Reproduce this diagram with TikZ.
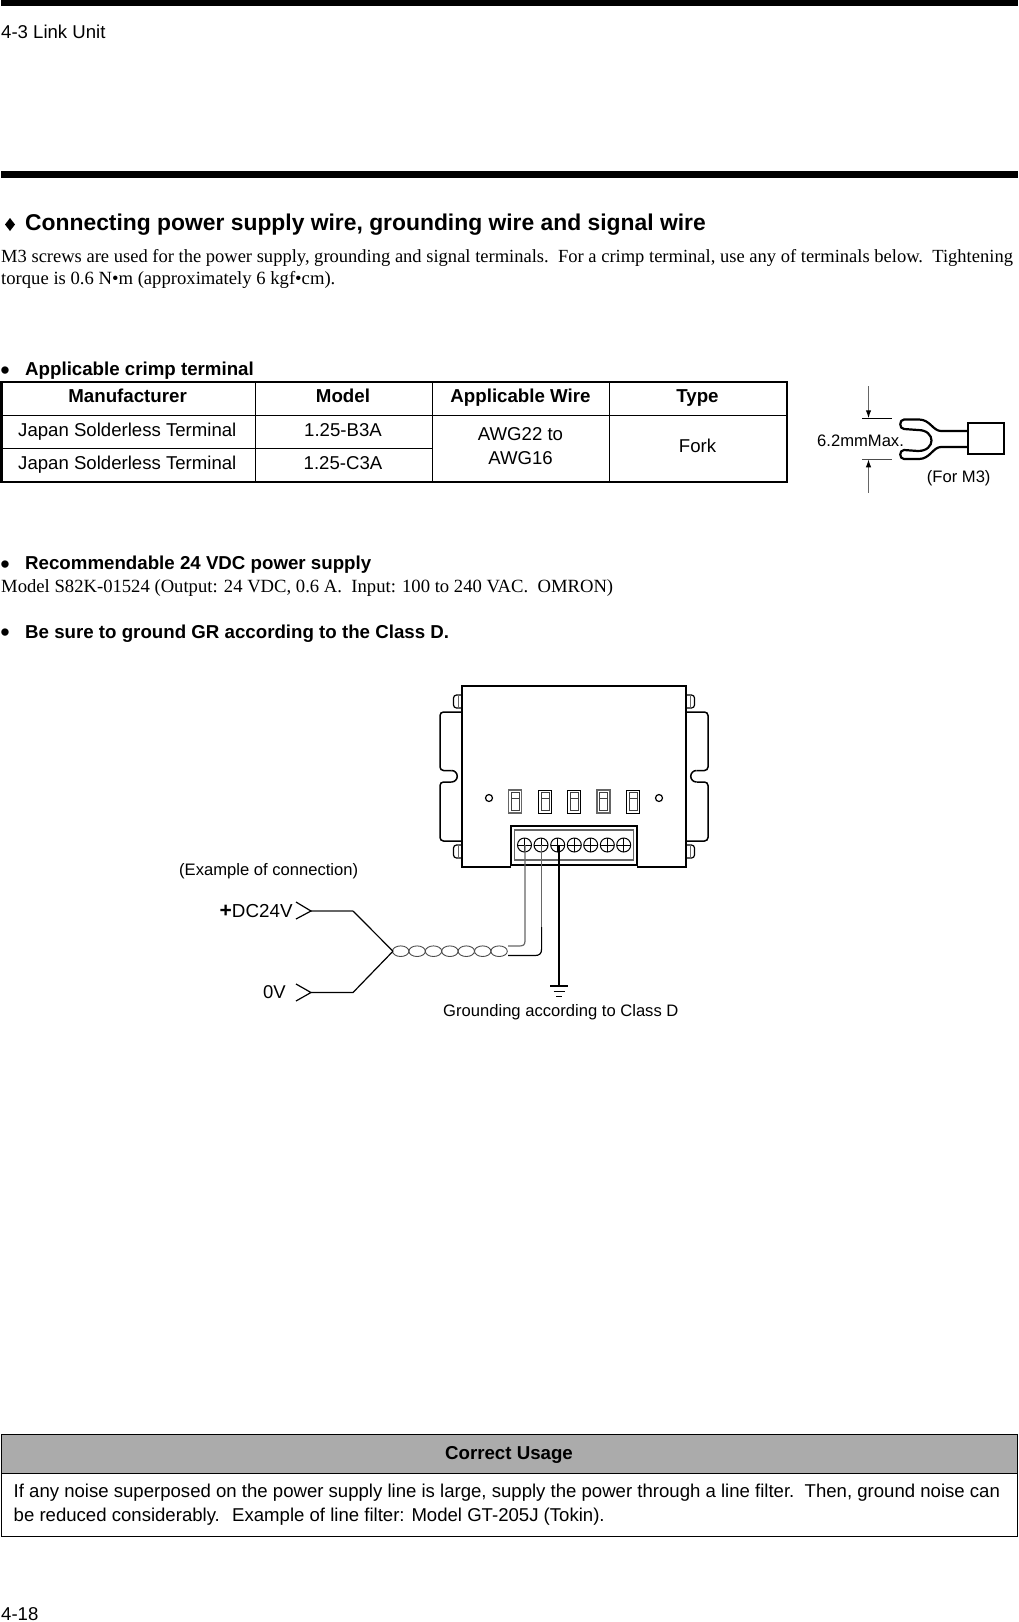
\documentclass[tikz,border=0pt]{standalone}
\usepackage{fontspec}
\setmainfont{Liberation Serif}
\setsansfont{Liberation Sans}
\usetikzlibrary{arrows.meta}

\tikzset{
  sanstext/.style={anchor=base west, inner sep=0pt, font=\sffamily\fontsize{18.58}{22}\selectfont},
  boldtext/.style={anchor=base west, inner sep=0pt, font=\sffamily\bfseries\fontsize{18.7}{22}\selectfont},
  bullettext/.style={anchor=base west, inner sep=0pt, font=\sffamily\fontsize{27}{28}\selectfont},
  serftext/.style={anchor=base west, inner sep=0pt, font=\fontsize{18.65}{22}\selectfont},
  celltext/.style={anchor=base, inner sep=0pt, font=\sffamily\fontsize{18.6}{22}\selectfont},
  headtext/.style={anchor=base, inner sep=0pt, font=\sffamily\bfseries\fontsize{18.7}{22}\selectfont},
  smalltext/.style={anchor=base west, inner sep=0pt, font=\sffamily\fontsize{16.6}{20}\selectfont},
  thinline/.style={line width=1.2pt},
  thickline/.style={line width=2.2pt},
  greywire/.style={line width=1.2pt, color=black!60},
}

\begin{document}
\begin{tikzpicture}[x=1pt,y=-1pt]
    \useasboundingbox (0,0) rectangle (1018,1622);

    %% page rules and running texts
    \fill (1,0) rectangle (1018,5.7);
    \fill (1,171) rectangle (1018,178);
    \node[sanstext] (runhead) at (1,38) {4-3 Link Unit};
    \node[sanstext] (pagenum) at (1,1620.5) {4-18};

    %% section heading
    \fill (10,218) -- (15,224.5) -- (10,231) -- (5,224.5) -- cycle;
    \node[anchor=base west, inner sep=0pt, font=\sffamily\bfseries\fontsize{22.85}{26}\selectfont] (heading) at (25,230) {Connecting power supply wire, grounding wire and signal wire};
    \node[serftext, font=\fontsize{18.52}{22}\selectfont] (introa) at (1,262) {M3 screws are used for the power supply, grounding and signal terminals.\ \ For a crimp terminal, use any of terminals below.\ \ Tightening};
    \node[serftext] (introb) at (1,284) {torque is 0.6 N•m (approximately 6 kgf•cm).};

    %% bullets
    \node[bullettext] (bulleta) at (0.3,379) {•};
    \node[boldtext] (crimp) at (25,375) {Applicable crimp terminal};
    \node[bullettext] (bulletb) at (0.3,573) {•};
    \node[boldtext] (supply) at (25,569) {Recommendable 24 VDC power supply};
    \node[serftext] (model) at (1,592.3) {Model S82K-01524 (Output: 24 VDC, 0.6 A.\ \ Input: 100 to 240 VAC.\ \ OMRON)};
    \node[bullettext] (bulletc) at (0.3,641.7) {•};
    \node[boldtext] (ground) at (25,638.2) {Be sure to ground GR according to the Class D.};

    %% table
    \draw[thinline] (255.7,382) -- (255.7,481.7);
    \draw[thinline] (432.3,382) -- (432.3,481.7);
    \draw[thinline] (609.3,382) -- (609.3,481.7);
    \draw[thinline] (1.5,415.3) -- (786.7,415.3);
    \draw[thinline] (1.5,448.3) -- (432.3,448.3);
    \draw[thickline] (1.5,382) rectangle (786.7,481.7);
    \node[headtext] (headmaker) at (127.6,402.7) {Manufacturer};
    \node[headtext] (headmodel) at (343,402.7) {Model};
    \node[headtext] (headwire) at (520.5,402.7) {Applicable Wire};
    \node[headtext] (headtype) at (697.5,402.7) {Type};
    \foreach \y/\m [count=\r] in {436/1.25-B3A,469/1.25-C3A}{
      \node[celltext] (maker\r) at (127.3,\y) {Japan Solderless Terminal};
      \node[celltext] (model\r) at (343,\y) {\m};
    }
    \node[celltext] (awga) at (520.5,440.7) {AWG22 to};
    \node[celltext] (awgb) at (520.5,464) {AWG16};
    \node[celltext] (fork) at (697.5,452.7) {Fork};

    %% crimp terminal
    \coordinate (dimtopa) at (868.5,386);
    \coordinate (dimtopb) at (868.5,418.3);
    \coordinate (dimbota) at (868.5,492.7);
    \coordinate (dimbotb) at (868.5,459.3);
    \draw[greywire, -{Latex[length=8pt,width=5.5pt,black]}] (dimtopa) -- (dimtopb);
    \draw[greywire, -{Latex[length=8pt,width=5.5pt,black]}] (dimbota) -- (dimbotb);
    \draw[line width=0.8pt] (862,418.3) -- (892,418.3);
    \draw[line width=0.8pt, black!70] (862,459.3) -- (892,459.3);
    \node[smalltext] (dimtext) at (817,446) {6.2mmMax.};
    \node[smalltext] (form) at (926.7,482.7) {(For M3)};
    \draw[thickline] (968.3,423.3) rectangle (1004,454.3);
    \draw[thickline, line join=round] (968.3,431) -- (941,431) .. controls (933,431) and (930,419.5) .. (919,419.5)
      -- (904,419.5) .. controls (899,419.5) and (899,429) .. (904,429) -- (918,430)
      .. controls (936,430) and (936,451) .. (918,451) -- (904,450)
      .. controls (899,450) and (899,459) .. (904,459) -- (919,459)
      .. controls (930,459) and (933,447) .. (941,447) -- (968.3,447);

    %% link unit, side plates
    \foreach \s in {1,-1}{
      \begin{scope}[shift={(574,0)}, x=\s pt]
        \draw[line width=1.5pt, rounded corners=3.5pt] (-112,712) -- (-134,712) -- (-134,770.5) -- (-122.5,770.5);
        \draw[line width=1.5pt, rounded corners=3.5pt] (-122.5,782) -- (-134,782) -- (-134,841) -- (-112,841);
        \draw[line width=1.5pt] (-122.5,770.5) arc[start angle=-90, end angle=90, radius=5.75];
        \foreach \t in {695,845}{
          \draw[thinline, rounded corners=3pt] (-112,\t) -- (-120.5,\t) -- (-120.5,\t+13) -- (-112,\t+13);
          \draw[line width=0.8pt, black!60] (-116,\t-1) -- (-116,\t+14);
        }
      \end{scope}
    }

    %% link unit, body
    \draw[thickline] (511,867) -- (462,867) -- (462,686) -- (686,686) -- (686,867) -- (637,867);
    \draw[thickline] (511,826) rectangle (637,865);
    \draw[line width=1.4pt, black!60] (514.5,830) rectangle (633.5,860);
    \draw[thinline] (489,798) circle (3.5);
    \draw[thinline] (659,798) circle (3.5);

    %% switches
    \foreach \x/\c/\w in {508.5/black!60/1.8pt,538.5/black/0.9pt,567.5/black/0.9pt,597/black!60/1.8pt,626.5/black/0.9pt}{
      \draw[line width=\w, \c] (\x,790) rectangle ++(13,23);
      \draw[line width=0.8pt, black!75] (\x+2.5,792.5) rectangle ++(8,18);
      \draw[line width=0.8pt, black!75] (\x+2.5,798) -- ++(8,0);
    }

    %% screws
    \foreach \x in {524.5,541,557.7,574.3,590.7,607.3,623.7}{
      \draw[line width=1pt] (\x,845) circle (7);
      \draw[line width=1pt] (\x-7,845) -- (\x+7,845) (\x,838) -- (\x,852);
    }

    %% wires to the screws
    \coordinate (scra) at (525,845);
    \coordinate (scrb) at (541.6,845);
    \coordinate (scrc) at (559,845);
    \draw[greywire] (scra) -- (525,941) .. controls (525,945) and (523,946) .. (519,946) -- (508,946);
    \draw[greywire] (scrb) -- (541.6,927);
    \draw[thinline] (541.6,927) -- (541.6,949) .. controls (541.6,954) and (539,955.5) .. (535,955.5) -- (508,955.5) ;
    \draw[line width=1.8pt] (scrc) -- (559,986);
    \draw[line width=2.4pt] (550,986) -- (568,986);
    \draw[line width=1pt] (553.5,991) -- (564.5,991);
    \draw[line width=1pt] (556,996) -- (562,996);
    \node[smalltext] (gndtext) at (443,1016) {Grounding according to Class D};

    %% twisted pair
    \foreach \i in {0,...,6}{
      \draw[line width=0.9pt, black!70] (400.7+16.4*\i,951.2) ellipse (8.2 and 5.3);
    }
    \coordinate (twist) at (393,951.2);
    \coordinate (wirea) at (311,911);
    \coordinate (wireb) at (311,992.5);
    \draw[greywire] (wirea) -- (353,911);
    \draw[thinline] (353,911) -- (twist);
    \draw[thinline] (wireb) -- (353,992.5) -- (twist);
    \draw[thinline] (296,902) -- (wirea) -- (296,919);
    \draw[thinline] (296,984) -- (wireb) -- (296,1001);

    %% labels of the wires
    \node[smalltext] (example) at (179,875) {(Example of connection)};
    \node[smalltext, font=\sffamily\fontsize{18.8}{20}\selectfont] (dcplus) at (219.5,917) {{\bfseries\fontsize{21}{20}\selectfont +}DC24V};
    \node[smalltext, font=\sffamily\fontsize{18.5}{20}\selectfont] (zerov) at (263,998) {0V};

    %% note box
    \fill[black!33] (1.7,1434.7) rectangle (1017.3,1473.3);
    \draw[thinline] (1.7,1434.7) rectangle (1017.3,1536.3);
    \draw[thinline] (1.7,1473.3) -- (1017.3,1473.3);
    \node[headtext] (usage) at (509,1459.3) {Correct Usage};
    \node[sanstext] (notea) at (13.5,1497.7) {If any noise superposed on the power supply line is large, supply the power through a line filter.\ \ Then, ground noise can};
    \node[sanstext] (noteb) at (13.5,1521.2) {be reduced considerably.\ \ \hspace{2pt}Example of line filter: Model GT-205J (Tokin).};
\end{tikzpicture}
\end{document}
